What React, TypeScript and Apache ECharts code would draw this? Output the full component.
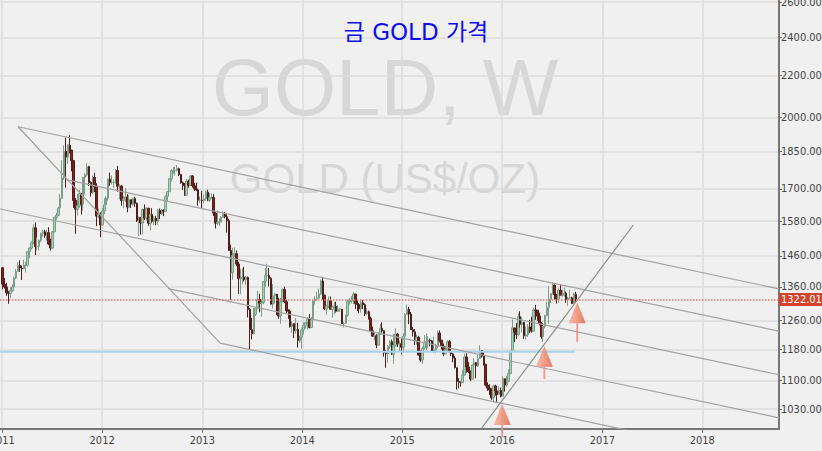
import React, { useEffect, useRef } from "react";
import * as echarts from "echarts";

// ---------- data (weekly gold candles, [close, low, high]; open = previous close) ----------
const firstOpen = 1421;
const firstWeek = "2011-01-03";

const gold2011 = [
  [1369, 1353, 1423], [1360, 1355, 1388], [1343, 1333, 1373], [1340, 1309, 1347], [1349, 1326, 1359],
  [1360, 1345, 1368], [1388, 1356, 1392], [1409, 1385, 1417], [1429, 1408, 1440],
  [1420, 1408, 1445], [1418, 1382, 1428], [1429, 1416, 1447], [1429, 1406, 1440],
  [1474, 1425, 1476], [1486, 1452, 1488], [1504, 1481, 1509], [1556, 1500, 1569],
  [1491, 1462, 1575], [1492, 1478, 1522], [1512, 1478, 1515], [1536, 1506, 1540], [1542, 1525, 1549],
  [1529, 1521, 1549], [1539, 1512, 1549], [1500, 1496, 1558], [1486, 1478, 1518],
  [1542, 1483, 1545], [1594, 1540, 1595], [1601, 1585, 1610], [1628, 1600, 1632],
  [1663, 1612, 1681], [1743, 1680, 1815], [1852, 1735, 1877], [1828, 1705, 1911], [1878, 1800, 1882],
  [1857, 1843, 1921], [1813, 1769, 1845], [1656, 1628, 1816], [1623, 1535, 1665],
  [1636, 1600, 1681], [1683, 1629, 1696], [1642, 1604, 1683], [1745, 1618, 1747], [1755, 1678, 1762],
  [1788, 1749, 1802], [1725, 1711, 1792], [1685, 1670, 1730], [1745, 1680, 1753],
  [1710, 1688, 1763], [1598, 1562, 1722], [1606, 1590, 1626], [1566, 1523, 1612],
];

const gold2012 = [
  [1617, 1565, 1627], [1640, 1605, 1665], [1665, 1635, 1672], [1738, 1655, 1740], [1725, 1712, 1764],
  [1725, 1718, 1753], [1725, 1705, 1737], [1773, 1720, 1779], [1710, 1689, 1791],
  [1711, 1660, 1718], [1655, 1636, 1715], [1662, 1627, 1672], [1669, 1650, 1702],
  [1631, 1612, 1680], [1659, 1627, 1676], [1642, 1628, 1658], [1663, 1636, 1667], [1645, 1632, 1670],
  [1581, 1577, 1648], [1592, 1527, 1597], [1573, 1532, 1595], [1622, 1533, 1625],
  [1591, 1584, 1641], [1627, 1582, 1630], [1572, 1563, 1628], [1604, 1547, 1605],
  [1579, 1575, 1627], [1590, 1565, 1598], [1580, 1565, 1599], [1619, 1566, 1624], [1606, 1587, 1626],
  [1620, 1602, 1623], [1616, 1598, 1622], [1671, 1614, 1675], [1689, 1650, 1692],
  [1740, 1688, 1742], [1772, 1729, 1778], [1772, 1760, 1788], [1773, 1752, 1787],
  [1780, 1769, 1795], [1757, 1750, 1784], [1724, 1720, 1755], [1712, 1696, 1729], [1676, 1673, 1723],
  [1730, 1675, 1739], [1714, 1705, 1736], [1751, 1712, 1755], [1712, 1705, 1754],
  [1700, 1692, 1723], [1696, 1692, 1725], [1657, 1636, 1697], [1657, 1647, 1671], [1656, 1626, 1693],
];

const gold2013 = [
  [1662, 1645, 1679], [1687, 1655, 1694], [1657, 1653, 1697], [1666, 1650, 1684],
  [1667, 1662, 1682], [1609, 1598, 1680], [1572, 1554, 1614], [1576, 1565, 1619],
  [1577, 1562, 1590], [1593, 1575, 1598], [1607, 1595, 1616], [1596, 1590, 1613],
  [1581, 1539, 1605], [1478, 1476, 1588], [1405, 1321, 1497], [1462, 1383, 1487], [1467, 1456, 1488],
  [1433, 1426, 1478], [1386, 1339, 1441], [1386, 1338, 1418], [1391, 1368, 1419],
  [1383, 1377, 1424], [1390, 1366, 1395], [1292, 1269, 1393], [1234, 1180, 1297],
  [1223, 1207, 1268], [1278, 1221, 1297], [1295, 1273, 1298], [1322, 1296, 1348], [1311, 1284, 1339],
  [1313, 1271, 1318], [1377, 1308, 1378], [1395, 1361, 1420], [1396, 1380, 1434],
  [1387, 1362, 1420], [1308, 1307, 1391], [1333, 1295, 1369], [1338, 1310, 1341], [1310, 1276, 1338],
  [1273, 1265, 1327], [1315, 1251, 1327], [1352, 1316, 1356], [1315, 1311, 1361],
  [1288, 1281, 1322], [1287, 1265, 1293], [1243, 1240, 1292], [1251, 1226, 1258],
  [1231, 1211, 1253], [1235, 1223, 1267], [1204, 1185, 1254], [1213, 1197, 1217], [1234, 1182, 1240],
];

const gold2014 = [
  [1247, 1221, 1255], [1254, 1236, 1256], [1264, 1234, 1270], [1240, 1238, 1279],
  [1262, 1240, 1270], [1318, 1258, 1320], [1323, 1307, 1332], [1326, 1318, 1345],
  [1339, 1325, 1355], [1379, 1335, 1383], [1335, 1322, 1392], [1294, 1290, 1336], [1303, 1277, 1306],
  [1318, 1297, 1331], [1293, 1292, 1331], [1300, 1268, 1304], [1302, 1278, 1315],
  [1287, 1283, 1315], [1293, 1285, 1305], [1293, 1285, 1297], [1251, 1250, 1293],
  [1252, 1240, 1255], [1275, 1250, 1277], [1316, 1271, 1322], [1317, 1307, 1326], [1320, 1310, 1332],
  [1338, 1308, 1345], [1310, 1293, 1340], [1307, 1288, 1318], [1294, 1281, 1312],
  [1312, 1283, 1322], [1306, 1293, 1320], [1280, 1273, 1310], [1286, 1275, 1296],
  [1267, 1263, 1289], [1231, 1228, 1271], [1216, 1214, 1243], [1217, 1205, 1225], [1192, 1183, 1221],
  [1222, 1190, 1226], [1238, 1219, 1250], [1231, 1227, 1255], [1171, 1161, 1232],
  [1169, 1132, 1178], [1188, 1145, 1192], [1201, 1182, 1205], [1167, 1165, 1207],
  [1191, 1142, 1222], [1222, 1186, 1238], [1195, 1186, 1225], [1195, 1176, 1204], [1186, 1167, 1210],
];

const gold2015 = [
  [1216, 1172, 1224], [1277, 1214, 1282], [1293, 1276, 1307], [1279, 1250, 1300],
  [1234, 1233, 1285], [1228, 1215, 1242], [1204, 1192, 1236], [1213, 1193, 1220],
  [1165, 1164, 1217], [1152, 1147, 1177], [1183, 1142, 1188], [1199, 1180, 1219], [1201, 1178, 1224],
  [1205, 1183, 1216], [1203, 1188, 1209], [1174, 1174, 1205], [1179, 1170, 1215],
  [1189, 1170, 1195], [1225, 1183, 1232], [1205, 1199, 1232], [1189, 1180, 1206],
  [1168, 1162, 1196], [1180, 1172, 1189], [1201, 1175, 1205], [1173, 1170, 1205], [1168, 1162, 1188],
  [1157, 1146, 1170], [1132, 1130, 1162], [1097, 1077, 1132], [1095, 1080, 1105],
  [1094, 1084, 1097], [1113, 1093, 1126], [1160, 1112, 1169], [1134, 1119, 1170], [1122, 1118, 1147],
  [1103, 1098, 1125], [1139, 1102, 1142], [1145, 1125, 1157], [1137, 1105, 1147],
  [1156, 1134, 1165], [1177, 1155, 1191], [1162, 1158, 1178], [1141, 1137, 1173],
  [1088, 1085, 1142], [1081, 1074, 1095], [1076, 1064, 1090], [1057, 1052, 1080], [1086, 1046, 1089],
  [1074, 1062, 1089], [1065, 1046, 1079], [1075, 1064, 1085], [1061, 1058, 1082],
];

const gold2016 = [
  [1104, 1062, 1110], [1088, 1072, 1099], [1097, 1083, 1111], [1117, 1096, 1128],
  [1174, 1115, 1175], [1239, 1174, 1263], [1227, 1200, 1240], [1221, 1208, 1253], [1271, 1216, 1280],
  [1249, 1240, 1287], [1255, 1226, 1271], [1217, 1208, 1254], [1220, 1207, 1243],
  [1242, 1214, 1250], [1234, 1225, 1262], [1230, 1226, 1271], [1291, 1230, 1297],
  [1290, 1262, 1306], [1273, 1259, 1290], [1252, 1246, 1283], [1215, 1209, 1256], [1243, 1200, 1244],
  [1275, 1238, 1276], [1298, 1272, 1315], [1322, 1251, 1362], [1340, 1311, 1341],
  [1366, 1337, 1375], [1337, 1322, 1368], [1323, 1310, 1336], [1350, 1312, 1356],
  [1335, 1334, 1367], [1336, 1330, 1352], [1341, 1331, 1358], [1321, 1312, 1346], [1326, 1303, 1330],
  [1327, 1322, 1352], [1310, 1308, 1330], [1338, 1312, 1343], [1322, 1315, 1345],
];

const yearTicks = ["2011", "2012", "2013", "2014", "2015", "2016", "2017", "2018"];
const priceTicks = [1030, 1100, 1180, 1260, 1360, 1460, 1580, 1700, 1850, 2000, 2200, 2400, 2600];
const axisRange = { xMin: "2010-12-24", xMax: "2018-10-08", yMin: 984.6, yMax: 2612.5 };

const lastPrice = 1322.01;
const supportLine = [["2010-12-24", 1174], ["2016-09-24", 1174]];

// descending channel lines ([date, price] end points)
const channelLines = [
  [["2011-02-28", 1958], ["2018-10-08", 1354]],
  [["2011-08-26", 1735], ["2018-10-08", 1230]],
  [["2010-12-24", 1624], ["2018-10-08", 1114]],
  [["2012-08-29", 1355], ["2018-10-08", 1010]],
  [["2013-03-07", 1197], ["2018-10-08", 912]],
  [["2011-02-28", 1958], ["2013-03-07", 1197]],
];
const upTrendLine = [["2015-10-16", 985], ["2017-04-24", 1566]];

// arrows: [date of tip, price of tip, stem length]
const arrows = [
  ["2016-01-01", 1042, 12],
  ["2016-06-03", 1189, 12],
  ["2016-10-01", 1314, 19],
];

// ---------- helpers ----------
const DAY = 86400000;
const ts = (s: string) => Date.parse(s + "T00:00:00Z");
const narrow = '"Liberation Sans Narrow", "Arial Narrow", "DejaVu Sans Condensed", sans-serif';

function buildCandles() {
  const all = [...gold2011, ...gold2012, ...gold2013, ...gold2014, ...gold2015, ...gold2016];
  const start = ts(firstWeek);
  return all.map((w, i) => {
    const open = i === 0 ? firstOpen : all[i - 1][0];
    const [close, low, high] = w;
    return [start + i * 7 * DAY, open, close, Math.min(low, open, close), Math.max(high, open, close)];
  });
}

export default function App() {
  const ref = useRef<HTMLDivElement>(null);

  useEffect(() => {
    if (!ref.current) return;
    const chart = echarts.init(ref.current, undefined, { renderer: "svg" });
    const yearValues = yearTicks.map((y) => ts(y + "-01-01"));
    const toXY = (seg: any[]) => seg.map((p) => [ts(p[0]), p[1]]);

    const lineSeries = channelLines.map((seg) => ({
      type: "line",
      data: toXY(seg),
      symbol: "none",
      silent: true,
      z: 3,
      lineStyle: { color: "#a2a2a2", width: 1.2 },
    }));

    const option: any = {
      animation: false,
      backgroundColor: "#f0f0f0",
      grid: { left: 0, right: 43, top: 0, bottom: 22, outerBoundsMode: "none", containLabel: false },
      graphic: [
        {
          type: "text",
          z: 0,
          silent: true,
          x: 385,
          y: 87,
          style: {
            text: "GOLD, W",
            fill: "#d7d7d7",
            font: '80px "Liberation Sans", Arial, sans-serif',
            lineHeight: 60,
            textAlign: "center",
            textVerticalAlign: "middle",
          },
        },
        {
          type: "text",
          z: 0,
          silent: true,
          x: 385,
          y: 178,
          style: {
            text: "GOLD (US$/OZ)",
            fill: "#d7d7d7",
            font: '42px "Liberation Sans", Arial, sans-serif',
            lineHeight: 32,
            textAlign: "center",
            textVerticalAlign: "middle",
          },
        },
        {
          type: "text",
          z: 10,
          x: 416,
          y: 32,
          style: {
            text: "금 GOLD 가격",
            fill: "#0c0cf5",
            font: '23px "DejaVu Sans", "Noto Sans CJK KR", sans-serif',
            lineHeight: 22,
            textAlign: "center",
            textVerticalAlign: "middle",
          },
        },
      ],
      xAxis: {
        type: "value",
        min: ts(axisRange.xMin),
        max: ts(axisRange.xMax),
        axisLine: { show: true, onZero: false, lineStyle: { color: "#777", width: 2 } },
        axisTick: { show: true, customValues: yearValues, length: 4, lineStyle: { color: "#777" } },
        axisLabel: {
          customValues: yearValues,
          formatter: (v: number) => String(new Date(v).getUTCFullYear()),
          fontFamily: narrow,
          fontSize: 11,
          color: "#444",
          margin: 6,
        },
        splitLine: { show: true, lineStyle: { color: "#dcdcdc", width: 1.5 } },
      },
      yAxis: {
        type: "log",
        logBase: 10,
        position: "right",
        min: axisRange.yMin,
        max: axisRange.yMax,
        axisLine: { show: true, lineStyle: { color: "#777", width: 2 } },
        axisTick: { show: true, customValues: priceTicks, length: 3, lineStyle: { color: "#666" } },
        axisLabel: {
          customValues: priceTicks,
          formatter: (v: number) => Number(v).toFixed(2),
          fontFamily: narrow,
          fontSize: 11,
          color: "#444",
          margin: 2,
        },
        splitLine: { show: true, lineStyle: { color: "#dcdcdc", width: 1.5 } },
      },
      series: [
        {
          type: "candlestick",
          data: buildCandles(),
          encode: { x: 0, y: [1, 2, 3, 4] },
          barWidth: 2,
          z: 2,
          itemStyle: {
            color: "#9dd6b4",
            color0: "#8b1f15",
            borderColor: "#7a9e88",
            borderColor0: "#4f1e1a",
            borderWidth: 1,
          },
          markLine: {
            silent: true,
            symbol: ["none", "none"],
            data: [{ yAxis: lastPrice }],
            lineStyle: { color: "#e27a6b", type: "dotted", width: 1.5 },
            label: {
              show: true,
              position: "end",
              distance: 0,
              formatter: lastPrice.toFixed(2),
              backgroundColor: "#d4442b",
              color: "#fff",
              fontFamily: narrow,
              fontSize: 11,
              lineHeight: 12,
              padding: [1, 2, 0, 2],
            },
          },
        },
        {
          type: "line",
          data: toXY(supportLine),
          symbol: "none",
          silent: true,
          z: 3,
          lineStyle: { color: "#a9d3ea", width: 2 },
        },
        ...lineSeries,
        {
          type: "line",
          data: toXY(upTrendLine),
          symbol: "none",
          silent: true,
          z: 3,
          lineStyle: { color: "#8e8e8e", width: 1.2 },
        },
        {
          type: "scatter",
          silent: true,
          z: 5,
          data: arrows.map((a) => ({
            value: [ts(a[0] as string), a[1]],
            symbolSize: [2, a[2]],
            symbolOffset: [0, 21 + (a[2] as number) / 2],
          })),
          symbol: "rect",
          itemStyle: { color: "#ef8a84" },
        },
        {
          type: "scatter",
          silent: true,
          z: 6,
          data: arrows.map((a) => [ts(a[0] as string), a[1]]),
          symbol: "path://M10 0 L20 24 L0 24 Z",
          symbolSize: [17, 21],
          symbolOffset: [0, 10.5],
          itemStyle: {
            color: {
              type: "linear",
              x: 0,
              y: 0,
              x2: 1,
              y2: 0,
              colorStops: [
                { offset: 0, color: "#f7ad98" },
                { offset: 0.5, color: "#f08a6f" },
                { offset: 1, color: "#df5a3d" },
              ],
            },
          },
        },
      ],
    };
    chart.setOption(option);
    return () => chart.dispose();
  }, []);

  return (
    <div
      ref={ref}
      style={{ position: "absolute", left: 0, top: 0, width: 822, height: 451 }}
    />
  );
}
